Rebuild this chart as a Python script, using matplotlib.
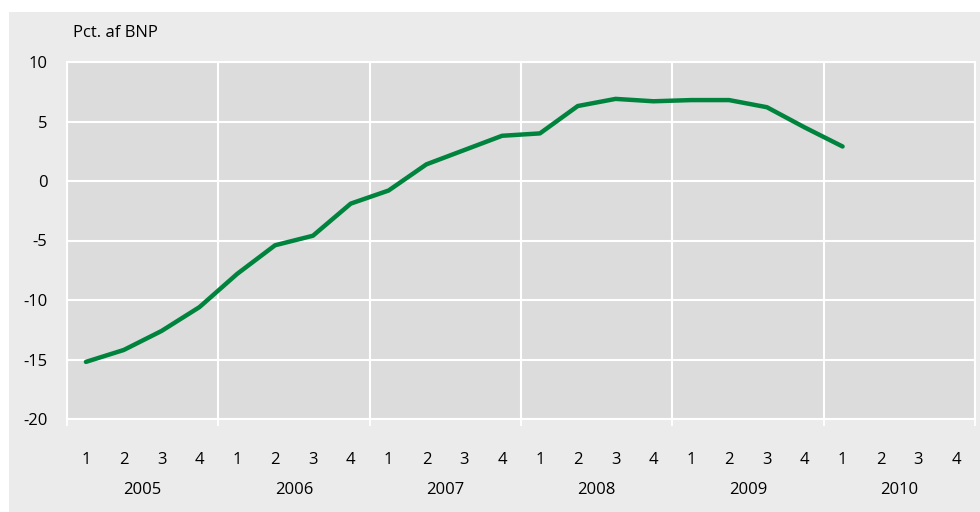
import matplotlib
matplotlib.use("Agg")
import matplotlib.pyplot as plt
from matplotlib.patches import Rectangle
import matplotlib.transforms as mtransforms
import numpy as np

plt.rcParams['font.family'] = ['Open Sans', 'DejaVu Sans']

years = ['2005', '2006', '2007', '2008', '2009', '2010']
quarters = ['1', '2', '3', '4']
# pct. af BNP, kvartalsvis fra 2005K1 til 2010K1
values = [-15.2, -14.2, -12.6, -10.6,
          -7.8, -5.4, -4.6, -1.9,
          -0.8, 1.4, 2.6, 3.8,
          4.0, 6.3, 6.9, 6.7,
          6.8, 6.8, 6.2, 4.5,
          2.9]
yticks = [10, 5, 0, -5, -10, -15, -20]

outer_bg = '#ebebeb'
plot_bg = '#dcdcdc'
green = '#00843d'

fig = plt.figure(figsize=(9.8, 5.12), dpi=100, facecolor='white')
fig.patches.append(Rectangle((9/980, 0), 1 - 9/980, 500/512, transform=fig.transFigure,
                             facecolor=outer_bg, edgecolor='none', zorder=-10))

ax = fig.add_axes([67/980, 93/512, 908/980, 357/512])
ax.set_facecolor(plot_bg)

nq = len(years) * 4
x = np.arange(len(values))
ax.plot(x, values, color=green, lw=3.2, solid_capstyle='round', solid_joinstyle='round', zorder=3)

ax.set_xlim(-0.5, nq - 0.5)
ax.set_ylim(-20, 10)

ax.set_yticks(yticks)
ax.set_yticklabels([str(v) for v in yticks])
ax.tick_params(axis='y', length=0, pad=14, labelsize=12)

# year boundaries as major ticks, quarters as minor
ax.set_xticks(np.arange(-0.5, nq, 4))
ax.set_xticklabels([])
ax.set_xticks(np.arange(nq), minor=True)
ax.set_xticklabels(quarters * len(years), minor=True)
ax.tick_params(axis='x', which='major', length=5, width=1.3, color='white')
ax.tick_params(axis='x', which='minor', length=0, pad=24, labelsize=12)

ax.grid(True, which='major', color='white', lw=1.5)
ax.set_axisbelow(True)
for s in ax.spines.values():
    s.set_color('white')
    s.set_linewidth(1.5)

trans = mtransforms.blended_transform_factory(ax.transData, ax.transAxes)
for i, yr in enumerate(years):
    ax.text(i * 4 + 1.5, -0.2, yr, transform=trans, ha='center', va='center', fontsize=12)

fig.text(73/980, 1 - 33/512, 'Pct. af BNP', ha='left', va='center', fontsize=12)

fig.savefig('out.png', dpi=100, facecolor=fig.get_facecolor())
